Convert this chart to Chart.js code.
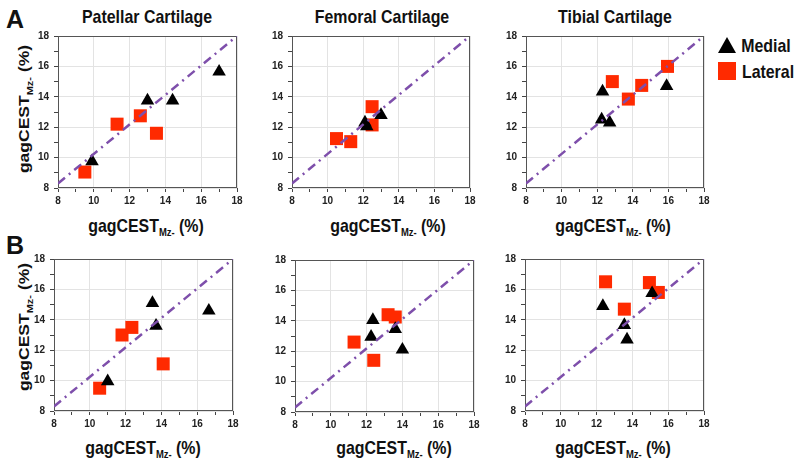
<!DOCTYPE html>
<html>
<head>
<meta charset="utf-8">
<script src="https://cdn.jsdelivr.net/npm/chart.js@4.4.0/dist/chart.umd.min.js"></script>
<style>
  body { margin: 0; background: #fff; }
  #fig { position: relative; width: 800px; height: 463px; overflow: hidden;
         font-family: 'Liberation Sans', Arial, sans-serif; font-weight: bold; color: #111; }
  #fig canvas { position: absolute; }
  .txt { position: absolute; white-space: nowrap; line-height: 1; font-size: 18.5px;
         transform: translate(-50%, -50%) scaleX(0.86); }
  .ylab { font-size: 17.5px; transform: translate(-50%, -50%) rotate(-90deg) scaleY(0.85); }
  sub { font-size: 11px; vertical-align: baseline; position: relative; top: 4px; }
  .letter { position: absolute; font-size: 25px; line-height: 1; }
  .tri { position: absolute; width: 0; height: 0; border-left: 9.5px solid transparent;
         border-right: 9.5px solid transparent; border-bottom: 16px solid #000; }
  .sq { position: absolute; width: 18px; height: 18px; background: #ff2a00; }
</style>
</head>
<body>
<div id="fig">
  <div class="letter" style="left:6px; top:7px;">A</div>
  <div class="letter" style="left:6px; top:233px;">B</div>

  <div class="txt" style="left:147px; top:17px;">Patellar Cartilage</div>
  <div class="txt" style="left:382px; top:17px;">Femoral Cartilage</div>
  <div class="txt" style="left:615px; top:17px;">Tibial Cartilage</div>

  <div class="txt" style="left:146px; top:226px;">gagCEST<sub>Mz-</sub> (%)</div>
  <div class="txt" style="left:388px; top:226px;">gagCEST<sub>Mz-</sub> (%)</div>
  <div class="txt" style="left:613px; top:226px;">gagCEST<sub>Mz-</sub> (%)</div>
  <div class="txt" style="left:143px; top:448px;">gagCEST<sub>Mz-</sub> (%)</div>
  <div class="txt" style="left:394px; top:448px;">gagCEST<sub>Mz-</sub> (%)</div>
  <div class="txt" style="left:613px; top:448px;">gagCEST<sub>Mz-</sub> (%)</div>

  <div class="txt ylab" style="left:25px; top:109px;">gagCEST<sub>Mz-</sub> (%)</div>
  <div class="txt ylab" style="left:25px; top:327px;">gagCEST<sub>Mz-</sub> (%)</div>

  <div class="tri" style="left:718px; top:37px;"></div>
  <div class="txt" style="left:766px; top:46px;">Medial</div>
  <div class="sq" style="left:718px; top:62px;"></div>
  <div class="txt" style="left:768px; top:72px;">Lateral</div>
</div>

<script>
// Axes / reference line
const axisMin = 8;
const axisMax = 18;
const identityX = [8, 18];
const identityY = [8.3, 18];

// Row A – Patellar
const patAMedialX = [9.9, 13.0, 14.4, 17.0];
const patAMedialY = [9.75, 13.75, 13.75, 15.65];
const patALateralX = [9.5, 11.3, 12.6, 13.5];
const patALateralY = [9.05, 12.2, 12.75, 11.6];
// Row A – Femoral
const femAMedialX = [12.1, 12.2, 13.0];
const femAMedialY = [12.3, 12.05, 12.8];
const femALateralX = [10.5, 11.3, 12.5, 12.5];
const femALateralY = [11.25, 11.05, 13.35, 12.15];
// Row A – Tibial
const tibAMedialX = [12.3, 12.25, 12.7, 15.9];
const tibAMedialY = [14.35, 12.5, 12.3, 14.7];
const tibALateralX = [12.85, 13.75, 14.5, 15.95];
const tibALateralY = [15.0, 13.85, 14.75, 16.0];

// Row B – Patellar
const patBMedialX = [11.0, 13.5, 13.7, 16.65];
const patBMedialY = [9.95, 15.1, 13.6, 14.6];
const patBLateralX = [10.55, 11.8, 12.35, 14.1];
const patBLateralY = [9.5, 13.0, 13.5, 11.1];
// Row B – Femoral
const femBMedialX = [12.35, 12.25, 13.6, 14.0];
const femBMedialY = [14.05, 12.95, 13.45, 12.1];
const femBLateralX = [11.3, 12.4, 13.2, 13.6];
const femBLateralY = [12.6, 11.4, 14.4, 14.25];
// Row B – Tibial
const tibBMedialX = [12.35, 13.55, 13.7, 15.1];
const tibBMedialY = [14.9, 13.65, 12.7, 15.75];
const tibBLateralX = [12.5, 13.55, 14.95, 15.45];
const tibBLateralY = [16.5, 14.7, 16.45, 15.8];

const medialColor = '#000000';
const lateralColor = '#ff2a00';
const lineColor = '#7e4fab';

Chart.defaults.font.family = "'Liberation Sans', Arial, sans-serif";
Chart.defaults.font.weight = 'bold';
Chart.defaults.font.size = 10;
Chart.defaults.color = '#222';

function toPoints(xs, ys) {
    return xs.map((x, i) => ({ x: x, y: ys[i] }));
}

// box round the plot area
const frameBox = {
    id: 'frameBox',
    beforeDatasetsDraw(chart) {
        const a = chart.chartArea;
        const ctx = chart.ctx;
        ctx.save();
        ctx.strokeStyle = '#555';
        ctx.lineWidth = 1;
        ctx.strokeRect(Math.round(a.left) + 0.5, Math.round(a.top) + 0.5,
                       Math.round(a.width) - 1, Math.round(a.height) - 1);
        ctx.restore();
    }
};

function axisOptions(isY) {
    return {
        type: 'linear',
        min: axisMin,
        max: axisMax,
        afterFit: function (scale) {
            if (isY) scale.width = 32; else scale.height = 24;
        },
        border: { display: false },
        grid: {
            color: c => (c.tick && c.tick.value % 2 === 0) ? '#e3e3e3' : 'rgba(0,0,0,0)',
            tickColor: '#444',
            tickLength: 4,
            lineWidth: 1
        },
        ticks: {
            stepSize: 1,
            autoSkip: false,
            maxRotation: 0,
            padding: isY ? 5 : 3,
            color: '#222',
            callback: v => (v % 2 === 0 ? v : '')
        }
    };
}

function createPanel(rect, medialX, medialY, lateralX, lateralY) {
    const [L, T, R, B] = rect;
    const canvas = document.createElement('canvas');
    const padL = 4, padT = 10, padR = 12;
    canvas.width = (R - L) + 32 + padL + padR;
    canvas.height = (B - T) + padT + 24;
    canvas.style.left = (L - 32 - padL) + 'px';
    canvas.style.top = (T - padT) + 'px';
    document.getElementById('fig').appendChild(canvas);

    new Chart(canvas.getContext('2d'), {
        type: 'scatter',
        data: {
            datasets: [
                {
                    type: 'line',
                    label: 'y = x',
                    data: toPoints(identityX, identityY),
                    borderColor: lineColor,
                    borderWidth: 2.5,
                    borderDash: [9, 5, 2, 5],
                    pointRadius: 0,
                    fill: false
                },
                {
                    label: 'Medial',
                    data: toPoints(medialX, medialY),
                    pointStyle: 'triangle',
                    pointRadius: 7.8,
                    backgroundColor: medialColor,
                    borderColor: medialColor,
                    borderWidth: 0
                },
                {
                    label: 'Lateral',
                    data: toPoints(lateralX, lateralY),
                    pointStyle: 'rect',
                    pointRadius: 9.2,
                    backgroundColor: lateralColor,
                    borderColor: lateralColor,
                    borderWidth: 0
                }
            ]
        },
        options: {
            responsive: false,
            animation: false,
            devicePixelRatio: 1,
            layout: { padding: { left: padL, top: padT, right: padR, bottom: 0 } },
            plugins: { legend: { display: false }, tooltip: { enabled: false } },
            scales: { x: axisOptions(false), y: axisOptions(true) }
        },
        plugins: [frameBox]
    });
}

createPanel([58, 35, 237, 188], patAMedialX, patAMedialY, patALateralX, patALateralY);
createPanel([292, 35, 470, 188], femAMedialX, femAMedialY, femALateralX, femALateralY);
createPanel([526, 35, 704, 188], tibAMedialX, tibAMedialY, tibALateralX, tibALateralY);
createPanel([54, 258, 233, 411], patBMedialX, patBMedialY, patBLateralX, patBLateralY);
createPanel([295, 259, 474, 412], femBMedialX, femBMedialY, femBLateralX, femBLateralY);
createPanel([525, 258, 704, 411], tibBMedialX, tibBMedialY, tibBLateralX, tibBLateralY);
</script>
</body>
</html>
